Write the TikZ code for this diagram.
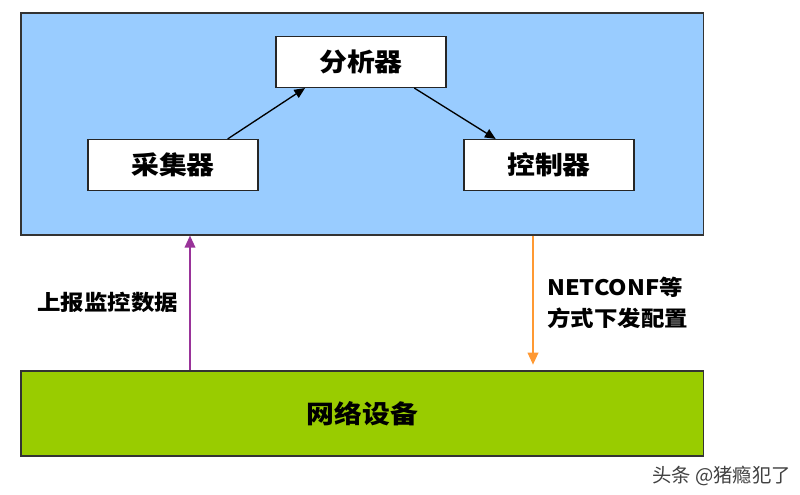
\documentclass[tikz,border=0pt]{standalone}
\usepackage{fontspec}
\setmainfont{Liberation Sans}
\newfontfamily\cjk{Noto Sans CJK SC}[FakeStretch=1.1]
\newfontfamily\cjkplain{Noto Sans CJK SC}
\usetikzlibrary{arrows.meta}
\definecolor{panelblue}{HTML}{99CCFF}
\definecolor{devgreen}{HTML}{99CC00}
\definecolor{uppurple}{HTML}{993399}
\definecolor{downorange}{HTML}{FF9933}
\begin{document}
\begin{tikzpicture}[x=0.75pt,y=-0.75pt,
  panel/.style={draw=black!80,line width=1.2pt,inner sep=0pt,anchor=north west},
  unitbox/.style={draw=black!85,line width=1.1pt,fill=white,minimum width=127.5pt,minimum height=38pt,inner sep=0pt,font=\cjk\bfseries\fontsize{19}{22}\selectfont},
  flow/.style={-{Triangle[length=8pt,width=7pt]},line width=1pt},
  lbl/.style={font=\cjk\bfseries\fontsize{16}{23}\selectfont,align=left,inner sep=0pt}]
\useasboundingbox (0,0) rectangle (800,495);
\node[panel,fill=panelblue,minimum width=512pt,minimum height=166.5pt] (sys) at (20,12) {};
\node[panel,fill=devgreen,minimum width=512pt,minimum height=64pt] (dev) at (20,370) {};
\node[font=\cjk\bfseries\fontsize{19}{22}\selectfont] (devtxt) at (dev.center) {网络设备};
\node[unitbox] (ana) at (361,62) {分析器};
\node[unitbox] (col) at (173,165) {采集器};
\node[unitbox] (ctl) at (549,165) {控制器};
\draw[flow] ([xshift=41pt]col.north) -- ([xshift=-42pt]ana.south);
\draw[flow] ([xshift=40pt]ana.south) -- ([xshift=-40pt]ctl.north);
\draw[-{Triangle[length=9pt,width=8pt]},uppurple,line width=1.1pt] (dev.north -| 190,0) -- (sys.south -| 190,0);
\draw[-{Triangle[length=9pt,width=8pt]},downorange,line width=1.1pt] (sys.south -| 533,0) -- ([yshift=4pt]dev.north -| 533,0);
\node[lbl,anchor=west] (up) at (37,302) {上报监控数据};
\node[lbl,anchor=west] (down) at (547,303) {NETCONF等\\方式下发配置};
\node[font=\cjkplain\fontsize{14.5}{16}\selectfont,text=black!75,anchor=east,inner sep=0pt] (wm) at (791,476) {头条 @猪瘾犯了};
\end{tikzpicture}
\end{document}
